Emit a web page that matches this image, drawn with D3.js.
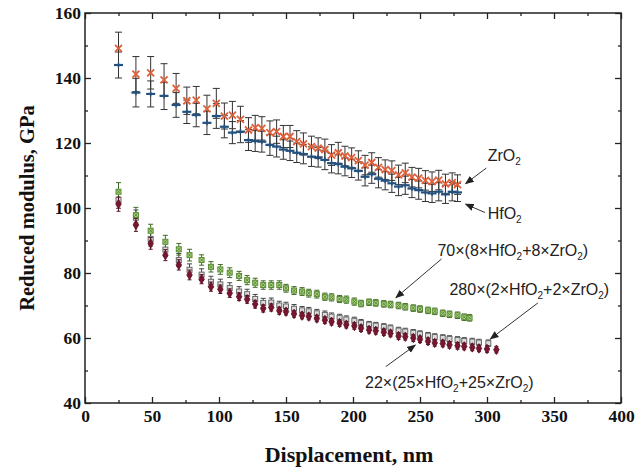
<!DOCTYPE html>
<html><head><meta charset="utf-8">
<script src="https://cdn.jsdelivr.net/npm/d3@7"></script>
<style>body{margin:0;background:#fff}svg{display:block}</style>
</head><body>
<svg id="c" width="644" height="470"></svg>
<script>
// ---- data ----
const xTicks = [0, 50, 100, 150, 200, 250, 300, 350, 400];
const yTicks = [40, 60, 80, 100, 120, 140, 160];

const zrX = [25,38,49,59,68,76,83,91,98,104,110,116,122,127,132,138,143,148,153,158,163,169,174,179,184,189,194,199,204,209,214,219,224,229,234,239,244,249,254,259,264,269,274,278];
const zrY = [149.1,141.2,141.6,139.4,136.8,133.0,133.2,130.5,132.2,128.3,128.6,127.3,124.0,124.7,124.5,123.2,123.5,122.0,122.0,120.4,119.7,118.9,118.4,118.0,116.3,117.0,116.0,115.5,114.6,113.2,114.0,112.5,111.8,111.5,110.2,110.8,109.5,109.2,108.5,108.1,108.6,107.4,107.8,107.2];
const zrErr = [5.0,5.4,5.0,5.0,4.6,4.2,4.2,4.2,4.6,4.0,4.2,4.0,3.8,3.8,3.6,3.6,3.6,3.4,3.4,3.4,3.4,3.2,3.2,3.2,3.2,3.2,3.0,3.0,3.0,3.0,3.0,3.0,3.0,3.0,3.0,3.0,3.0,3.0,3.0,3.0,3.0,3.0,3.0,3.0];
const hfX = zrX;
const hfY = [144.0,135.5,135.1,134.5,131.7,129.6,128.6,126.2,128.3,125.0,123.2,123.5,120.9,120.6,120.4,119.4,118.9,118.0,117.6,117.0,116.6,115.8,115.6,114.8,113.8,113.5,112.7,112.2,111.4,109.6,110.4,109.0,108.4,107.6,106.6,107.0,106.0,105.5,104.8,104.5,105.0,104.2,105.0,104.8];
const hfErr = [4.0,4.4,4.0,4.2,3.8,3.6,3.6,3.6,3.8,3.4,3.4,3.4,3.2,3.2,3.2,3.2,3.2,3.0,3.0,3.0,3.0,3.0,3.0,3.0,3.0,3.0,2.8,2.8,2.8,2.8,2.8,2.8,2.8,2.8,2.8,2.8,2.8,2.8,2.8,2.8,2.8,2.8,2.8,2.8];

const s70X = [25,38,49,60,70,78,87,94,101,108,115,121,127,133,139,145,150,156,162,167,173,179,184,190,195,201,206,212,217,223,228,234,239,245,250,256,261,267,272,278,283,287];
const s70Y = [105.0,97.8,93.0,89.6,87.3,85.5,84.0,81.9,81.1,80.1,79.1,77.8,77.0,76.3,76.3,76.3,75.3,74.6,74.3,73.8,73.5,72.7,72.5,72.0,71.8,71.2,70.6,71.0,70.8,70.5,70.3,70.0,69.6,69.2,68.9,68.5,68.2,67.6,67.3,67.0,66.4,66.2];
const s70Err = [2.8,2.4,2.0,2.0,1.8,1.8,1.6,1.6,1.5,1.5,1.4,1.4,1.4,1.3,1.3,1.3,1.2,1.2,1.2,1.2,1.2,1.1,1.1,1.1,1.1,1.1,1.0,1.0,1.0,1.0,1.0,1.0,1.0,1.0,1.0,1.0,1.0,1.0,1.0,1.0,1.0,1.0];

const s280X = [25,38,49,60,70,78,87,94,101,108,115,121,127,133,139,145,150,156,162,167,173,179,184,190,195,201,206,212,217,223,228,234,239,245,250,256,261,267,272,278,283,289,294,301];
const s280Y = [102.5,97.0,90.5,87.2,84.0,81.0,79.5,77.3,76.5,75.4,74.3,73.5,72.0,70.8,70.9,70.0,69.7,69.0,68.5,68.2,67.6,67.1,66.6,66.2,65.7,65.3,64.6,64.1,63.8,63.4,63.0,62.3,62.0,61.6,61.2,60.7,60.3,60.0,59.7,59.4,59.1,58.9,58.6,58.4];
const s280Err = [2.6,2.4,2.2,2.0,2.0,1.8,1.8,1.7,1.6,1.6,1.5,1.5,1.4,1.4,1.4,1.3,1.3,1.3,1.2,1.2,1.2,1.2,1.1,1.1,1.1,1.1,1.1,1.0,1.0,1.0,1.0,1.0,1.0,1.0,1.0,1.0,1.0,1.0,1.0,1.0,1.0,1.0,1.0,1.0];

const s22X = [25,38,49,60,70,78,87,94,101,108,115,121,127,133,139,145,150,156,162,167,173,179,184,190,195,201,206,212,217,223,228,234,239,245,250,256,261,267,272,278,283,289,294,300,307];
const s22Y = [101.2,94.8,89.1,85.5,82.5,79.4,78.1,75.8,75.0,73.8,72.7,71.9,70.4,69.1,69.4,68.4,68.1,67.4,66.9,66.6,66.0,65.5,65.0,64.6,64.1,63.7,63.0,62.5,62.2,61.8,61.4,60.6,60.4,60.0,59.6,59.0,58.5,58.3,57.9,57.6,57.4,57.1,56.8,56.6,56.4];
const s22Err = [2.2,2.0,1.8,1.7,1.6,1.5,1.4,1.4,1.3,1.3,1.2,1.2,1.2,1.1,1.1,1.1,1.0,1.0,1.0,1.0,1.0,1.0,1.0,1.0,1.0,1.0,1.0,1.0,1.0,1.0,1.0,1.0,1.0,1.0,1.0,1.0,1.0,1.0,1.0,1.0,1.0,1.0,1.0,1.0,1.0];

const labelZr = "ZrO|2|";
const labelHf = "HfO|2|";
const label70 = "70×(8×HfO|2|+8×ZrO|2|)";
const label280 = "280×(2×HfO|2|+2×ZrO|2|)";
const label22 = "22×(25×HfO|2|+25×ZrO|2|)";

// ---- layout ----
const m = {l: 85, r: 621, t: 13, b: 403};
const x = d3.scaleLinear().domain([0, 400]).range([m.l, m.r]);
const y = d3.scaleLinear().domain([40, 160]).range([m.b, m.t]);
const svg = d3.select("#c");
const serif = "'Liberation Serif','Times New Roman',serif";
const sans = "'Liberation Sans',Arial,sans-serif";

function styleAxis(g){
  g.select(".domain").remove();
  g.selectAll("line").attr("stroke","#222").attr("stroke-width",1.3);
  g.selectAll("text").attr("font-family",serif).attr("font-weight","bold").attr("font-size","17.5px").attr("fill","#111");
}
const minorX = d3.range(25, 400, 50);
const minorY = d3.range(50, 160, 20);

svg.append("g").attr("transform",`translate(0,${m.b})`)
  .call(d3.axisBottom(x).tickValues(xTicks).tickSize(-6).tickPadding(7).tickFormat(d3.format("d")))
  .call(styleAxis);
svg.append("g").attr("transform",`translate(0,${m.b})`)
  .call(d3.axisBottom(x).tickValues(minorX).tickSize(-3).tickFormat(""))
  .call(styleAxis);
svg.append("g").attr("transform",`translate(0,${m.t})`)
  .call(d3.axisTop(x).tickValues(xTicks).tickSize(-6).tickFormat(""))
  .call(styleAxis);
svg.append("g").attr("transform",`translate(0,${m.t})`)
  .call(d3.axisTop(x).tickValues(minorX).tickSize(-3).tickFormat(""))
  .call(styleAxis);
svg.append("g").attr("transform",`translate(${m.l},0)`)
  .call(d3.axisLeft(y).tickValues(yTicks).tickSize(-6).tickPadding(4).tickFormat(d3.format("d")))
  .call(styleAxis);
svg.append("g").attr("transform",`translate(${m.l},0)`)
  .call(d3.axisLeft(y).tickValues(minorY).tickSize(-3).tickFormat(""))
  .call(styleAxis);
svg.append("g").attr("transform",`translate(${m.r},0)`)
  .call(d3.axisRight(y).tickValues(yTicks).tickSize(-6).tickFormat(""))
  .call(styleAxis);
svg.append("g").attr("transform",`translate(${m.r},0)`)
  .call(d3.axisRight(y).tickValues(minorY).tickSize(-3).tickFormat(""))
  .call(styleAxis);
svg.append("rect").attr("x",m.l).attr("y",m.t).attr("width",m.r-m.l).attr("height",m.b-m.t)
  .attr("fill","none").attr("stroke","#222").attr("stroke-width",1.5);

svg.append("text").attr("x",(m.l+m.r)/2 - 4).attr("y",462).attr("text-anchor","middle")
  .attr("font-family",serif).attr("font-weight","bold").attr("font-size","22px").attr("fill","#111")
  .text("Displacement, nm");
svg.append("text").attr("transform",`translate(34,${(m.t+m.b)/2}) rotate(-90)`).attr("text-anchor","middle")
  .attr("font-family",serif).attr("font-weight","bold").attr("font-size","20.5px").attr("fill","#111")
  .text("Reduced modulus, GPa");

function pts(xs, ys, es){ return xs.map((d,i)=>({x:d, y:ys[i], e:es[i]})); }
function errBars(data, color, cap, w){
  const g = svg.append("g").attr("stroke",color).attr("stroke-width",w||1).attr("fill","none");
  data.forEach(d=>{
    const x0 = x(d.x), y1 = y(d.y + d.e), y2 = y(d.y - d.e);
    g.append("line").attr("x1",x0).attr("x2",x0).attr("y1",y1).attr("y2",y2);
    g.append("line").attr("x1",x0-cap).attr("x2",x0+cap).attr("y1",y1).attr("y2",y1);
    g.append("line").attr("x1",x0-cap).attr("x2",x0+cap).attr("y1",y2).attr("y2",y2);
  });
}

const dHf = pts(hfX, hfY, hfErr), dZr = pts(zrX, zrY, zrErr);
const d70 = pts(s70X, s70Y, s70Err), d280 = pts(s280X, s280Y, s280Err), d22 = pts(s22X, s22Y, s22Err);

errBars(dHf, "#333", 3.5, 1);
errBars(dZr, "#333", 3.5, 1);
svg.append("g").selectAll("g").data(dHf).join("g")
  .attr("transform",d=>`translate(${x(d.x)},${y(d.y)})`)
  .call(g=>{
    g.append("line").attr("x1",-4.5).attr("x2",4.5).attr("stroke","#24507d").attr("stroke-width",2.2);
    g.append("line").attr("y1",-2.5).attr("y2",2.5).attr("stroke","#24507d").attr("stroke-width",1.5);
  });
svg.append("g").selectAll("path").data(dZr).join("path")
  .attr("transform",d=>`translate(${x(d.x)},${y(d.y)})`)
  .attr("d","M-3.5,-3.5L3.5,3.5M-3.5,3.5L3.5,-3.5")
  .attr("stroke","#e0603a").attr("stroke-width",1.8).attr("fill","none");

errBars(d280, "#444", 2.5, 1);
errBars(d70, "#3f6a25", 2.5, 1);
svg.append("g").selectAll("rect").data(d280).join("rect")
  .attr("x",d=>x(d.x)-2.5).attr("y",d=>y(d.y)-2.5).attr("width",5).attr("height",5)
  .attr("fill","#dcdcdc").attr("stroke","#6a6a6a").attr("stroke-width",1);
svg.append("g").selectAll("rect").data(d70).join("rect")
  .attr("x",d=>x(d.x)-2.5).attr("y",d=>y(d.y)-2.5).attr("width",5).attr("height",5)
  .attr("fill","#a9d57e").attr("stroke","#5b8c35").attr("stroke-width",1);
svg.append("g").selectAll("path").data(d70).join("path")
  .attr("transform",d=>`translate(${x(d.x)},${y(d.y)})`)
  .attr("d","M-1.8,-1.8L1.8,1.8M-1.8,1.8L1.8,-1.8").attr("stroke","#4d7a2c").attr("stroke-width",0.8);
errBars(d22, "#5a1020", 2, 1);
svg.append("g").selectAll("path").data(d22).join("path")
  .attr("transform",d=>`translate(${x(d.x)},${y(d.y)})`)
  .attr("d",d3.symbol(d3.symbolDiamond, 26))
  .attr("fill","#7a1530").attr("stroke","#5a0c22").attr("stroke-width",0.8);

svg.append("defs").append("marker").attr("id","ah").attr("viewBox","0 0 10 10")
  .attr("refX",9).attr("refY",5).attr("markerWidth",9).attr("markerHeight",9)
  .attr("markerUnits","userSpaceOnUse").attr("orient","auto")
  .append("path").attr("d","M0,1L10,5L0,9Z").attr("fill","#222");

function arrow(x1,y1,x2,y2){
  svg.append("line").attr("x1",x(x1)).attr("y1",y(y1)).attr("x2",x(x2)).attr("y2",y(y2))
    .attr("stroke","#333").attr("stroke-width",1).attr("marker-end","url(#ah)");
}
function chem(str, px, py){
  const t = svg.append("text").attr("x",px).attr("y",py)
    .attr("font-family",sans).attr("font-size","16px").attr("fill","#222");
  str.split("|").forEach((s,i)=>{
    if(s === "") return;
    if(i%2===1){
      t.append("tspan").attr("font-size","10px").attr("dy","4").text(s);
    } else {
      const ts = t.append("tspan").text(s);
      if(i>0) ts.attr("dy","-4");
    }
  });
}
chem(labelZr, x(300.5), y(114.5));
chem(labelHf, x(300.5), y(96.5));
chem(label70, x(263), y(85.2));
chem(label280, x(272), y(73.2));
chem(label22, x(209), y(44.7));
arrow(299.5,112.3,284,107.5);
arrow(298.5,98.6,284,101.2);
arrow(266,84.3,232,72.4);
arrow(338,70.8,302.5,59.7);
arrow(224.5,51.2,246.5,57.8);
</script>
</body></html>
